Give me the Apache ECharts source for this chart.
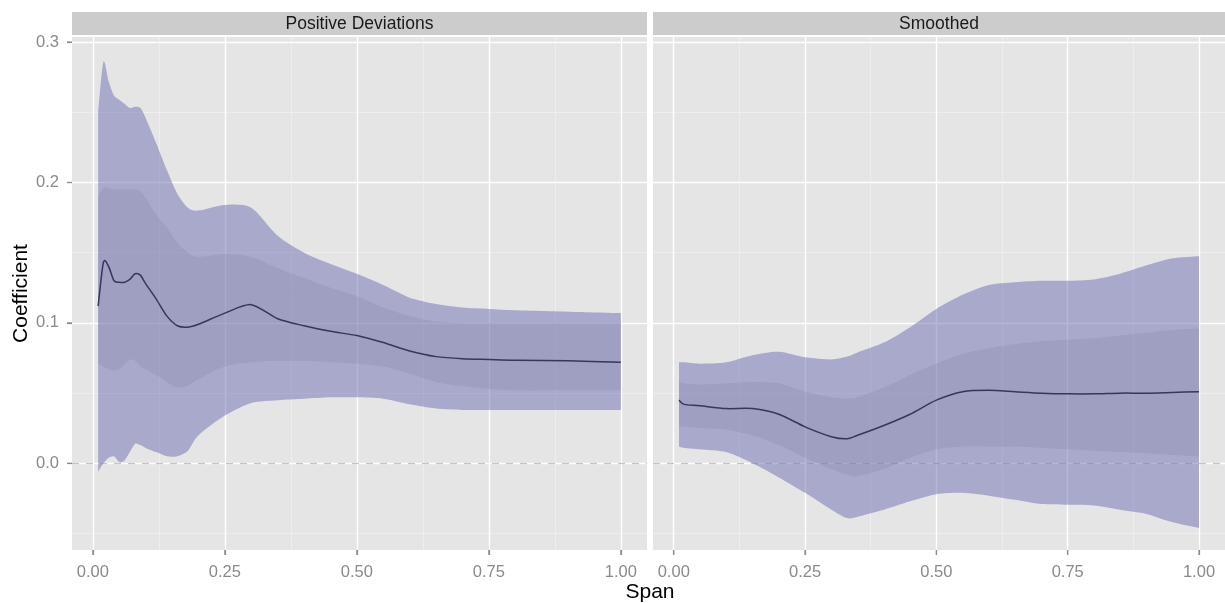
<!DOCTYPE html>
<html>
<head>
<meta charset="utf-8">
<script src="https://cdn.jsdelivr.net/npm/echarts@6/dist/echarts.min.js"></script>
<style>
html,body{margin:0;padding:0;background:#ffffff;}
#chart{width:1225px;height:603px;}
</style>
</head>
<body>
<div id="chart"></div>
<script>
// ---------- data ----------
const panelTitles = ['Positive Deviations', 'Smoothed'];
const xTitle = 'Span';
const yTitle = 'Coefficient';

const xTicks = [0, 0.25, 0.5, 0.75, 1];
const xMinorTicks = [0.125, 0.375, 0.625, 0.875];
const yTicks = [0, 0.1, 0.2, 0.3];
const yMinorTicks = [-0.05, 0.05, 0.15, 0.25];
const zeroLine = [0];

// Left panel: Positive Deviations
const spanL    = [0.01,0.02,0.03,0.04,0.05,0.06,0.07,0.08,0.09,0.10,0.12,0.14,0.16,0.18,0.20,0.25,0.30,0.35,0.40,0.45,0.50,0.55,0.60,0.65,0.70,0.75,0.80,0.90,1.00];
const outerHiL = [0.250,0.286,0.272,0.262,0.259,0.256,0.253,0.254,0.253,0.246,0.228,0.209,0.192,0.182,0.180,0.184,0.182,0.162,0.150,0.142,0.135,0.127,0.118,0.1135,0.111,0.110,0.109,0.108,0.107];
const innerHiL = [0.190,0.196,0.196,0.195,0.195,0.195,0.195,0.195,0.194,0.189,0.177,0.168,0.157,0.150,0.147,0.149,0.147,0.139,0.132,0.125,0.119,0.111,0.105,0.101,0.100,0.100,0.100,0.100,0.100];
const meanL    = [0.112,0.143,0.140,0.130,0.129,0.129,0.131,0.135,0.134,0.128,0.117,0.105,0.098,0.097,0.099,0.107,0.113,0.103,0.098,0.094,0.091,0.086,0.080,0.076,0.0745,0.074,0.0735,0.073,0.072];
const innerLoL = [0.071,0.069,0.067,0.066,0.067,0.071,0.074,0.073,0.069,0.067,0.063,0.058,0.054,0.055,0.060,0.069,0.072,0.073,0.073,0.072,0.071,0.069,0.064,0.058,0.055,0.053,0.052,0.052,0.052];
const outerLoL = [-0.006,0.000,0.004,0.005,0.001,0.002,0.008,0.014,0.013,0.011,0.008,0.005,0.005,0.009,0.020,0.034,0.043,0.045,0.046,0.047,0.047,0.046,0.042,0.039,0.038,0.038,0.038,0.038,0.038];

// Right panel: Smoothed
const spanR    = [0.01,0.02,0.05,0.10,0.15,0.20,0.25,0.30,0.33,0.35,0.40,0.45,0.50,0.55,0.60,0.65,0.70,0.75,0.80,0.85,0.90,0.95,1.00];
const outerHiR = [0.072,0.072,0.071,0.072,0.077,0.0795,0.0755,0.074,0.076,0.079,0.086,0.097,0.110,0.120,0.127,0.129,0.130,0.130,0.131,0.135,0.141,0.146,0.1475];
const innerHiR = [0.058,0.057,0.056,0.057,0.058,0.057,0.051,0.047,0.046,0.047,0.054,0.063,0.071,0.078,0.082,0.085,0.087,0.088,0.089,0.091,0.093,0.095,0.096];
const meanR    = [0.045,0.042,0.041,0.039,0.039,0.035,0.026,0.019,0.0175,0.020,0.027,0.035,0.045,0.051,0.052,0.051,0.050,0.0495,0.0495,0.050,0.050,0.0505,0.051];
const innerLoR = [0.027,0.026,0.025,0.024,0.020,0.013,0.004,-0.004,-0.008,-0.009,-0.004,0.004,0.010,0.012,0.012,0.012,0.011,0.010,0.009,0.008,0.007,0.006,0.005];
const outerLoR = [0.012,0.011,0.010,0.008,0.000,-0.010,-0.021,-0.033,-0.039,-0.038,-0.033,-0.027,-0.022,-0.021,-0.023,-0.026,-0.029,-0.0295,-0.030,-0.033,-0.036,-0.042,-0.046];

// ---------- styling / layout ----------
const FONT = "'Liberation Sans', Arial, Helvetica, sans-serif";
const PANEL_BG = '#e5e5e5';
const STRIP_BG = '#cccccc';
const OUTER_FILL = 'rgba(109,109,179,0.50)';
const INNER_FILL = 'rgba(120,120,150,0.20)';
const MEAN_COLOR = '#36365f';
const AXIS_TEXT = '#8a8a8a';
const TICK_COLOR = '#8a8a8a';
const X_MIN = -0.0395, X_MAX = 1.0495;
const Y_MIN = -0.0617, Y_MAX = 0.3036;
const grids = [
  {left: 72, top: 37, width: 575, height: 513},
  {left: 653, top: 37, width: 575, height: 513}
];

const xAxes = [], yAxes = [], series = [], graphics = [];

grids.forEach((g, i) => {
  graphics.push({type: 'rect', z: -10, silent: true,
    shape: {x: g.left, y: g.top, width: g.width, height: g.height},
    style: {fill: PANEL_BG}});
  graphics.push({type: 'rect', silent: true,
    shape: {x: g.left, y: 12, width: g.width, height: 23},
    style: {fill: STRIP_BG}});
  graphics.push({type: 'text', silent: true,
    x: g.left + g.width / 2 - (i === 1 ? 1.5 : 0), y: 24,
    style: {text: panelTitles[i], fontSize: 17.5, fontFamily: FONT, fill: '#1a1a1a',
            align: 'center', verticalAlign: 'middle'}});

  xAxes.push({gridIndex: i, type: 'value', min: X_MIN, max: X_MAX, position: 'bottom',
    axisLine: {show: true, onZero: false, lineStyle: {color: 'rgba(0,0,0,0)'}},
    axisTick: {show: true, customValues: xTicks, length: 5, lineStyle: {color: TICK_COLOR, width: 1.2}},
    axisLabel: {show: true, customValues: xTicks, margin: 14, fontSize: 16.5, fontFamily: FONT,
                color: AXIS_TEXT, formatter: v => v.toFixed(2)},
    splitLine: {show: true, lineStyle: {color: '#ffffff', width: 1.4}}});
  xAxes.push({gridIndex: i, type: 'value', min: X_MIN, max: X_MAX, position: 'bottom',
    axisLine: {show: false, onZero: false}, axisLabel: {show: false},
    axisTick: {show: false, customValues: xMinorTicks},
    splitLine: {show: true, lineStyle: {color: '#f2f2f2', width: 0.7}}});

  yAxes.push({gridIndex: i, type: 'value', min: Y_MIN, max: Y_MAX, position: 'left',
    axisLine: {show: true, onZero: false, lineStyle: {color: 'rgba(0,0,0,0)'}},
    axisTick: {show: i === 0, customValues: yTicks, length: 5, lineStyle: {color: TICK_COLOR, width: 1.2}},
    axisLabel: {show: i === 0, customValues: yTicks, margin: 13, fontSize: 16.5, fontFamily: FONT,
                color: AXIS_TEXT, formatter: v => v.toFixed(1)},
    splitLine: {show: true, lineStyle: {color: '#ffffff', width: 1.4}}});
  yAxes.push({gridIndex: i, type: 'value', min: Y_MIN, max: Y_MAX, position: 'left',
    axisLine: {show: false, onZero: false}, axisLabel: {show: false},
    axisTick: {show: false, customValues: yMinorTicks},
    splitLine: {show: true, lineStyle: {color: '#f2f2f2', width: 0.7}}});
  yAxes.push({gridIndex: i, type: 'value', min: Y_MIN, max: Y_MAX, position: 'left', z: 1,
    axisLine: {show: false, onZero: false}, axisLabel: {show: false},
    axisTick: {show: false, customValues: zeroLine},
    splitLine: {show: true, lineStyle: {color: '#c4c4c4', width: 1.3, type: [7, 7]}}});
});

const panelsData = [
  {span: spanL, oHi: outerHiL, iHi: innerHiL, mean: meanL, iLo: innerLoL, oLo: outerLoL},
  {span: spanR, oHi: outerHiR, iHi: innerHiR, mean: meanR, iLo: innerLoR, oLo: outerLoR}
];

// Catmull-Rom style cubic segments through pixel points (rendering only)
function curveSegments(pts) {
  let s = '';
  const n = pts.length;
  for (let i = 0; i < n - 1; i++) {
    const p0 = pts[Math.max(i - 1, 0)], p1 = pts[i], p2 = pts[i + 1], p3 = pts[Math.min(i + 2, n - 1)];
    const t = 0.8;
    const c1x = p1[0] + (p2[0] - p0[0]) / 6 * t, c1y = p1[1] + (p2[1] - p0[1]) / 6 * t;
    const c2x = p2[0] - (p3[0] - p1[0]) / 6 * t, c2y = p2[1] - (p3[1] - p1[1]) / 6 * t;
    s += ' C' + c1x.toFixed(2) + ' ' + c1y.toFixed(2) + ' ' + c2x.toFixed(2) + ' ' + c2y.toFixed(2) +
         ' ' + p2[0].toFixed(2) + ' ' + p2[1].toFixed(2);
  }
  return s;
}

// ribbon drawn as one closed path through the axis scales (api.coord)
function ribbonRenderer(fill) {
  return function (params, api) {
    if (params.dataIndexInside !== 0) return null;
    const n = params.dataInsideLength;
    const top = [], bottom = [];
    for (let k = 0; k < n; k++) {
      const x = api.value(0, k);
      top.push(api.coord([x, api.value(2, k)]));
      bottom.push(api.coord([x, api.value(1, k)]));
    }
    bottom.reverse();
    const d = 'M' + top[0][0] + ' ' + top[0][1] + curveSegments(top) +
              ' L' + bottom[0][0] + ' ' + bottom[0][1] + curveSegments(bottom) + ' Z';
    return {type: 'path', shape: {pathData: d}, style: {fill: fill, stroke: null}};
  };
}

// estimate line drawn with the same smoothing, through the axis scales
function lineRenderer(color, width) {
  return function (params, api) {
    if (params.dataIndexInside !== 0) return null;
    const n = params.dataInsideLength;
    const pts = [];
    for (let k = 0; k < n; k++) pts.push(api.coord([api.value(0, k), api.value(1, k)]));
    const d = 'M' + pts[0][0] + ' ' + pts[0][1] + curveSegments(pts);
    return {type: 'path', shape: {pathData: d},
            style: {fill: null, stroke: color, lineWidth: width, lineJoin: 'round'}};
  };
}

panelsData.forEach((d, i) => {
  series.push({type: 'custom', name: 'outer' + i, xAxisIndex: 2 * i, yAxisIndex: 3 * i,
    silent: true, z: 2, animation: false,
    encode: {x: 0, y: [1, 2]},
    data: d.span.map((x, k) => [x, d.oLo[k], d.oHi[k]]),
    renderItem: ribbonRenderer(OUTER_FILL)});
  series.push({type: 'custom', name: 'inner' + i, xAxisIndex: 2 * i, yAxisIndex: 3 * i,
    silent: true, z: 3, animation: false,
    encode: {x: 0, y: [1, 2]},
    data: d.span.map((x, k) => [x, d.iLo[k], d.iHi[k]]),
    renderItem: ribbonRenderer(INNER_FILL)});
  series.push({type: 'custom', name: 'mean' + i, xAxisIndex: 2 * i, yAxisIndex: 3 * i,
    silent: true, z: 4, animation: false,
    encode: {x: 0, y: 1},
    data: d.span.map((x, k) => [x, d.mean[k]]),
    renderItem: lineRenderer(MEAN_COLOR, 1.5)});
});

graphics.push({type: 'text', silent: true, x: 650, y: 592,
  style: {text: xTitle, fontSize: 21, fontFamily: FONT, fill: '#000000', align: 'center', verticalAlign: 'middle'}});
graphics.push({type: 'text', silent: true, x: 21, y: 293.5, rotation: Math.PI / 2,
  style: {text: yTitle, fontSize: 21, fontFamily: FONT, fill: '#000000', align: 'center', verticalAlign: 'middle'}});

const chart = echarts.init(document.getElementById('chart'), null, {renderer: 'canvas'});
chart.setOption({
  animation: false,
  backgroundColor: '#ffffff',
  grid: grids,
  xAxis: xAxes,
  yAxis: yAxes,
  series: series,
  graphic: {elements: graphics}
});

// axis tick marks placed through the axis scales
const tickMarks = [];
grids.forEach((g, i) => {
  const bottom = g.top + g.height;
  xTicks.forEach(v => {
    const px = chart.convertToPixel({xAxisIndex: 2 * i}, v);
    tickMarks.push({type: 'line', silent: true,
      shape: {x1: px, y1: bottom, x2: px, y2: bottom + 5},
      style: {stroke: TICK_COLOR, lineWidth: 1.2}});
  });
});
yTicks.forEach(v => {
  const py = chart.convertToPixel({yAxisIndex: 0}, v);
  tickMarks.push({type: 'line', silent: true,
    shape: {x1: grids[0].left - 5, y1: py, x2: grids[0].left, y2: py},
    style: {stroke: TICK_COLOR, lineWidth: 1.2}});
});
chart.setOption({graphic: {elements: graphics.concat(tickMarks)}});
</script>
</body>
</html>
